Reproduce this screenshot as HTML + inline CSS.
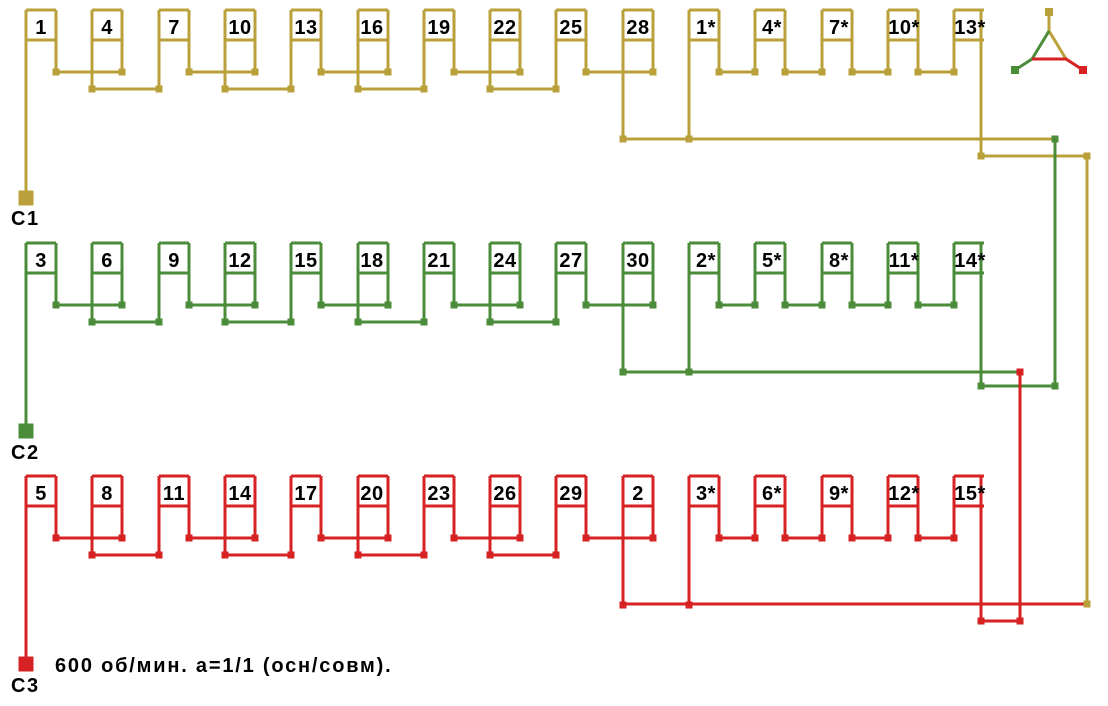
<!DOCTYPE html>
<html><head><meta charset="utf-8"><style>
html,body{margin:0;padding:0;background:#fff;}
svg{display:block;}
text{font-family:"Liberation Sans",Arial,sans-serif;font-weight:bold;font-size:20px;fill:#000;}
.l{text-anchor:middle;letter-spacing:0.5px;}
</style></head><body>
<svg id="s" width="1108" height="706" viewBox="0 0 1108 706" xmlns="http://www.w3.org/2000/svg">
<g id="g"></g>
<g class="l">
<text x="41" y="34">1</text><text x="107" y="34">4</text><text x="174" y="34">7</text><text x="240" y="34">10</text><text x="306" y="34">13</text><text x="372" y="34">16</text><text x="439" y="34">19</text><text x="505" y="34">22</text><text x="571" y="34">25</text><text x="638" y="34">28</text><text x="706" y="34">1*</text><text x="772" y="34">4*</text><text x="839" y="34">7*</text><text x="904" y="34">10*</text><text x="970" y="34">13*</text>
<text x="41" y="267">3</text><text x="107" y="267">6</text><text x="174" y="267">9</text><text x="240" y="267">12</text><text x="306" y="267">15</text><text x="372" y="267">18</text><text x="439" y="267">21</text><text x="505" y="267">24</text><text x="571" y="267">27</text><text x="638" y="267">30</text><text x="706" y="267">2*</text><text x="772" y="267">5*</text><text x="839" y="267">8*</text><text x="904" y="267">11*</text><text x="970" y="267">14*</text>
<text x="41" y="500">5</text><text x="107" y="500">8</text><text x="174" y="500">11</text><text x="240" y="500">14</text><text x="306" y="500">17</text><text x="372" y="500">20</text><text x="439" y="500">23</text><text x="505" y="500">26</text><text x="571" y="500">29</text><text x="638" y="500">2</text><text x="706" y="500">3*</text><text x="772" y="500">6*</text><text x="839" y="500">9*</text><text x="904" y="500">12*</text><text x="970" y="500">15*</text>
</g>
<text x="11" y="225" style="letter-spacing:1.5px">C1</text>
<text x="11" y="459" style="letter-spacing:1.5px">C2</text>
<text x="11" y="692" style="letter-spacing:1.5px">C3</text>
<text x="55" y="672" style="letter-spacing:1.8px">600 об/мин. а=1/1 (осн/совм).</text>
</svg>
<script>
var G=document.getElementById('g'),NS='http://www.w3.org/2000/svg';
var Y='#b9a03a',Gr='#4b8c3a',R='#d62222';
function ln(pts,c){var p=document.createElementNS(NS,'polyline');p.setAttribute('points',pts.map(function(a){return a.join(',')}).join(' '));p.setAttribute('fill','none');p.setAttribute('stroke',c);p.setAttribute('stroke-width','3');G.appendChild(p);}
function dot(x,y,c,s){s=s||7;var r=document.createElementNS(NS,'rect');r.setAttribute('x',x-s/2);r.setAttribute('y',y-s/2);r.setAttribute('width',s);r.setAttribute('height',s);r.setAttribute('fill',c);G.appendChild(r);}
function row(oy,c,csq){
 var L=[],Rr=[];for(var i=0;i<15;i++){L[i]=Math.round(26+66.3*i);Rr[i]=L[i]+30;}
 var t=10+oy,b=40+oy,u=72+oy,lo=89+oy,bus=139+oy;
 for(var i=0;i<15;i++){
  ln([[L[i],t],[Rr[i],t]],c);ln([[L[i],b],[Rr[i],b]],c);
  var ly;
  if(i==0)ly=csq; else if(i<9)ly=lo; else if(i<=10)ly=bus; else ly=u;
  ln([[L[i],t],[L[i],ly]],c);
  if(i<14)ln([[Rr[i],t],[Rr[i],u]],c);
 }
 for(var i=0;i<=8;i+=2){ln([[Rr[i],u],[Rr[i+1],u]],c);dot(Rr[i],u,c);dot(Rr[i+1],u,c);}
 for(var i=1;i<=7;i+=2){ln([[L[i],lo],[L[i+1],lo]],c);dot(L[i],lo,c);dot(L[i+1],lo,c);}
 for(var i=10;i<14;i++){ln([[Rr[i],u],[L[i+1],u]],c);dot(Rr[i],u,c);dot(L[i+1],u,c);}
 dot(L[9],bus,c);dot(L[10],bus,c);
}
row(0,Y,198);row(233,Gr,431);row(466,R,664);
dot(26,198,Y,15);dot(26,431,Gr,15);dot(26,664,R,15);
ln([[622,139],[1055,139]],Y);dot(1055,139,Gr);
ln([[981,10],[981,156],[1087,156],[1087,604]],Y);dot(981,156,Y);dot(1087,156,Y);
ln([[1055,139],[1055,386]],Gr);
ln([[622,372],[1020,372]],Gr);dot(1020,372,R);
ln([[981,243],[981,386],[1055,386]],Gr);dot(981,386,Gr);dot(1055,386,Gr);
ln([[1020,372],[1020,621]],R);
ln([[622,604],[1087,604]],R);dot(1087,604,Y);
ln([[981,476],[981,621],[1020,621]],R);dot(981,621,R);dot(1020,621,R);
ln([[1049,12],[1049,31],[1066,59]],Y);
ln([[1049,31],[1032,59],[1015,70]],Gr);
ln([[1032,59],[1066,59],[1083,70]],R);
dot(1049,12,Y,8);dot(1015,70,Gr,8);dot(1083,70,R,8);
</script>
</body></html>
